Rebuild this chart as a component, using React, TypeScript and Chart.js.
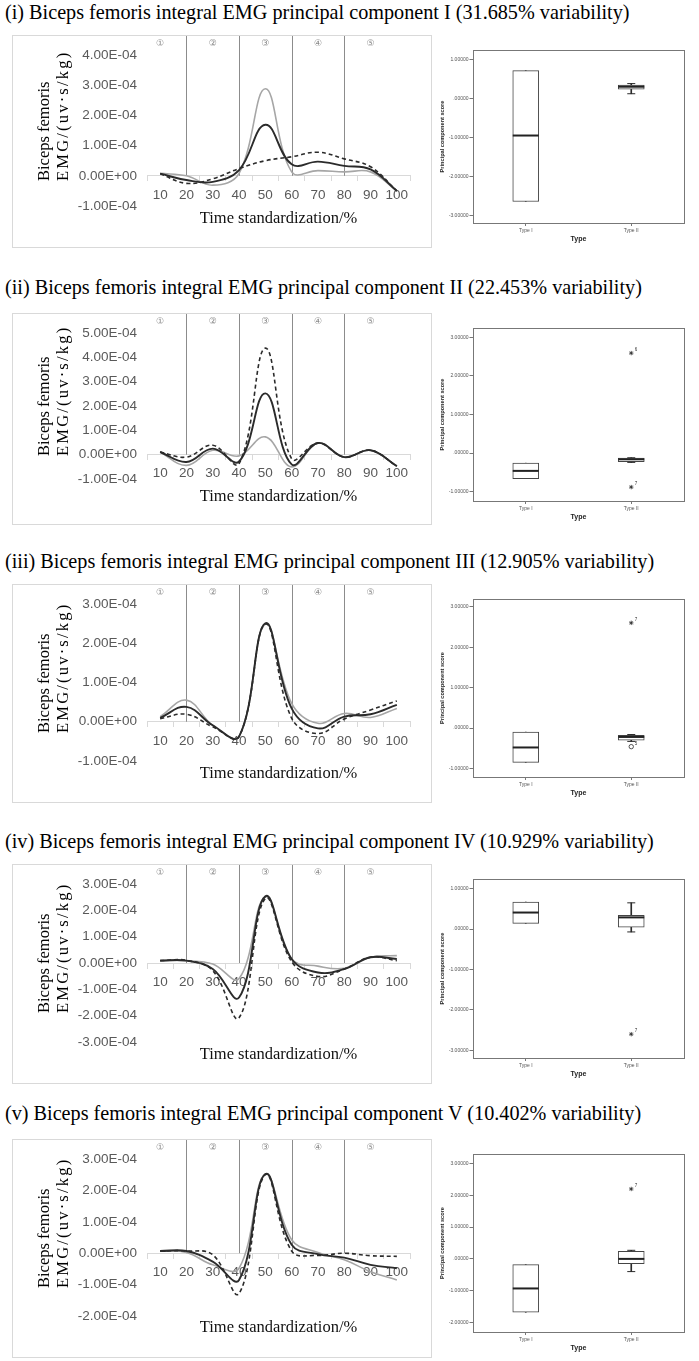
import React, { useEffect, useRef } from 'react';
import { Chart, registerables } from 'chart.js';

Chart.register(...registerables);
Chart.defaults.font.family = "'Liberation Sans', Arial, sans-serif";

const timeLabels = ['10', '20', '30', '40', '50', '60', '70', '80', '90', '100'];
const phaseBounds = ['20', '40', '60', '80'];
const phaseCenters = ['10', '30', '50', '70', '90'];
const phaseMarks = ['①', '②', '③', '④', '⑤'];
const typeLabels = ['Type I', 'Type II'];

const panelTitles = [
    '(i) Biceps femoris integral EMG principal component I (31.685% variability)',
    '(ii) Biceps femoris integral EMG principal component II (22.453% variability)',
    '(iii) Biceps femoris integral EMG principal component III (12.905% variability)',
    '(iv) Biceps femoris integral EMG principal component IV (10.929% variability)',
    '(v) Biceps femoris integral EMG principal component V (10.402% variability)',
];

// EMG curves (uv·s/kg) - grey, black and dashed group for each component
const pc1Grey = [0.08e-4, 0.0, -0.31e-4, 0.08e-4, 2.88e-4, 0.13e-4, 0.17e-4, 0.13e-4, 0.13e-4, -0.5e-4];
const pc1Black = [0.07e-4, -0.14e-4, -0.2e-4, 0.19e-4, 1.69e-4, 0.38e-4, 0.47e-4, 0.33e-4, 0.21e-4, -0.5e-4];
const pc1Dashed = [0.07e-4, -0.25e-4, -0.1e-4, 0.24e-4, 0.5e-4, 0.63e-4, 0.78e-4, 0.56e-4, 0.3e-4, -0.5e-4];

const pc2Grey = [0.11e-4, -0.44e-4, 0.18e-4, -0.05e-4, 0.73e-4, -0.5e-4, 0.48e-4, -0.1e-4, 0.18e-4, -0.47e-4];
const pc2Black = [0.11e-4, -0.3e-4, 0.25e-4, -0.28e-4, 2.52e-4, -0.4e-4, 0.48e-4, -0.1e-4, 0.18e-4, -0.47e-4];
const pc2Dashed = [0.11e-4, -0.1e-4, 0.39e-4, -0.37e-4, 4.38e-4, -0.17e-4, 0.48e-4, -0.1e-4, 0.18e-4, -0.47e-4];

const pc3Grey = [0.13e-4, 0.55e-4, -0.09e-4, -0.38e-4, 2.49e-4, 0.47e-4, -0.04e-4, 0.21e-4, 0.11e-4, 0.34e-4];
const pc3Black = [0.1e-4, 0.38e-4, -0.09e-4, -0.38e-4, 2.51e-4, 0.34e-4, -0.17e-4, 0.13e-4, 0.19e-4, 0.43e-4];
const pc3Dashed = [0.08e-4, 0.19e-4, -0.13e-4, -0.38e-4, 2.49e-4, 0.09e-4, -0.3e-4, 0.07e-4, 0.3e-4, 0.53e-4];

const pc4Grey = [0.09e-4, 0.09e-4, -0.04e-4, -0.59e-4, 2.51e-4, 0.15e-4, -0.12e-4, -0.2e-4, 0.22e-4, 0.28e-4];
const pc4Black = [0.09e-4, 0.09e-4, -0.23e-4, -1.31e-4, 2.53e-4, 0.15e-4, -0.36e-4, -0.23e-4, 0.22e-4, 0.15e-4];
const pc4Dashed = [0.09e-4, 0.1e-4, -0.29e-4, -2.08e-4, 2.45e-4, 0.05e-4, -0.51e-4, -0.23e-4, 0.22e-4, 0.09e-4];

const pc5Grey = [0.07e-4, 0.02e-4, -0.37e-4, -0.48e-4, 2.52e-4, 0.43e-4, 0.02e-4, -0.21e-4, -0.59e-4, -0.85e-4];
const pc5Black = [0.07e-4, 0.07e-4, -0.27e-4, -0.85e-4, 2.52e-4, 0.27e-4, -0.03e-4, -0.14e-4, -0.37e-4, -0.48e-4];
const pc5Dashed = [0.07e-4, 0.07e-4, -0.05e-4, -1.28e-4, 2.5e-4, 0.07e-4, -0.07e-4, 0.0, -0.08e-4, -0.1e-4];

const pc1Range = [-1e-4, 4e-4];
const pc2Range = [-1e-4, 5e-4];
const pc3Range = [-1e-4, 3e-4];
const pc4Range = [-3e-4, 3e-4];
const pc5Range = [-2e-4, 3e-4];

// principal component scores: [min, q1, median, q3, max]
const pc1TypeI = [-2.64, -2.64, -0.95, 0.71, 0.71];
const pc1TypeII = [0.12, 0.24, 0.3, 0.34, 0.38];
const pc2TypeI = [-0.66, -0.66, -0.46, -0.26, -0.26];
const pc2TypeII = [-0.24, -0.22, -0.16, -0.13, -0.12];
const pc3TypeI = [-0.85, -0.85, -0.48, -0.1, -0.1];
const pc3TypeII = [-0.33, -0.3, -0.22, -0.18, -0.16];
const pc4TypeI = [0.14, 0.14, 0.41, 0.67, 0.67];
const pc4TypeII = [-0.07, 0.05, 0.29, 0.34, 0.65];
const pc5TypeI = [-1.68, -1.68, -0.93, -0.18, -0.18];
const pc5TypeII = [-0.4, -0.15, 0.0, 0.24, 0.27];

const pc1Outliers: Outlier[] = [];
const pc2Outliers: Outlier[] = [
    { type: 'Type II', value: 2.59, id: '6', mark: 'star' },
    { type: 'Type II', value: -0.88, id: '7', mark: 'star' },
];
const pc3Outliers: Outlier[] = [
    { type: 'Type II', value: -0.46, id: '5', mark: 'circle' },
    { type: 'Type II', value: 2.6, id: '7', mark: 'star' },
];
const pc4Outliers: Outlier[] = [{ type: 'Type II', value: -2.6, id: '7', mark: 'star' }];
const pc5Outliers: Outlier[] = [{ type: 'Type II', value: 2.2, id: '7', mark: 'star' }];

const pc1ScoreRange = [-3.19, 1.24];
const pc2ScoreRange = [-1.24, 3.24];
const pc3ScoreRange = [-1.21, 3.19];
const pc4ScoreRange = [-3.19, 1.24];
const pc5ScoreRange = [-2.3, 3.3];

interface Outlier { type: string; value: number; id: string; mark: string }

interface PanelLayout {
    titleY: number; top: number; bottom: number; plotTop: number; plotBottom: number;
    xTitleGap: number; boxTop: number; boxBottom: number; boxRight: number;
}

const layouts: PanelLayout[] = [
    { titleY: 12, top: 35, bottom: 248, plotTop: 55, plotBottom: 206, xTitleGap: 13, boxTop: 39, boxBottom: 223, boxRight: 690 },
    { titleY: 287, top: 313, bottom: 525, plotTop: 333, plotBottom: 479, xTitleGap: 18, boxTop: 315, boxBottom: 501, boxRight: 688 },
    { titleY: 561, top: 584, bottom: 803, plotTop: 604, plotBottom: 761, xTitleGap: 13, boxTop: 593, boxBottom: 777, boxRight: 697 },
    { titleY: 841, top: 864, bottom: 1084, plotTop: 884, plotBottom: 1042, xTitleGap: 13, boxTop: 874, boxBottom: 1058, boxRight: 688 },
    { titleY: 1113, top: 1139, bottom: 1358, plotTop: 1159, plotBottom: 1316, xTitleGap: 12, boxTop: 1145, boxBottom: 1332, boxRight: 697 },
];

const panels = [
    { title: panelTitles[0], grey: pc1Grey, black: pc1Black, dashed: pc1Dashed, range: pc1Range, typeI: pc1TypeI, typeII: pc1TypeII, outliers: pc1Outliers, scoreRange: pc1ScoreRange },
    { title: panelTitles[1], grey: pc2Grey, black: pc2Black, dashed: pc2Dashed, range: pc2Range, typeI: pc2TypeI, typeII: pc2TypeII, outliers: pc2Outliers, scoreRange: pc2ScoreRange },
    { title: panelTitles[2], grey: pc3Grey, black: pc3Black, dashed: pc3Dashed, range: pc3Range, typeI: pc3TypeI, typeII: pc3TypeII, outliers: pc3Outliers, scoreRange: pc3ScoreRange },
    { title: panelTitles[3], grey: pc4Grey, black: pc4Black, dashed: pc4Dashed, range: pc4Range, typeI: pc4TypeI, typeII: pc4TypeII, outliers: pc4Outliers, scoreRange: pc4ScoreRange },
    { title: panelTitles[4], grey: pc5Grey, black: pc5Black, dashed: pc5Dashed, range: pc5Range, typeI: pc5TypeI, typeII: pc5TypeII, outliers: pc5Outliers, scoreRange: pc5ScoreRange },
];

const SERIF = "'Liberation Serif', 'Times New Roman', serif";
const AXIS_GREY = '#595959';
const INK = '#2b2b2b';
const X_TITLE_SIZE = 16.5;

// 4.00E-04 style labels, like Excel
const sciLabel = (v: number | string) => {
    let n = Number(v);
    if (Math.abs(n) < 1e-12) n = 0;
    const [m, e] = n.toExponential(2).split('e');
    const p = parseInt(e, 10);
    return `${m}E${p < 0 ? '-' : '+'}${String(Math.abs(p)).padStart(2, '0')}`;
};

const scoreLabel = (v: number | string) => {
    const n = Number(v);
    return Math.abs(n) < 1e-9 ? '.00000' : n.toFixed(5);
};

// phase separators and circled phase numbers
const phasePlugin = {
    id: 'phases',
    beforeDatasetsDraw(chart: any) {
        const { ctx } = chart;
        const x = chart.scales.x;
        const y = chart.scales.y;
        const zero = y.getPixelForValue(0);
        ctx.save();
        ctx.strokeStyle = '#8c8c8c';
        ctx.lineWidth = 1;
        phaseBounds.forEach((b) => {
            const px = Math.round(x.getPixelForValue(timeLabels.indexOf(b))) + 0.5;
            ctx.beginPath();
            ctx.moveTo(px, 0);
            ctx.lineTo(px, zero);
            ctx.stroke();
        });
        ctx.fillStyle = '#8a8a8a';
        ctx.font = "9px 'DejaVu Sans'";
        ctx.textAlign = 'center';
        ctx.textBaseline = 'middle';
        phaseMarks.forEach((m, i) => {
            ctx.fillText(m, x.getPixelForValue(timeLabels.indexOf(phaseCenters[i])), 8);
        });
        ctx.restore();
    },
};

const framePlugin = {
    id: 'frame',
    afterDraw(chart: any) {
        const { ctx, chartArea: a } = chart;
        ctx.save();
        ctx.strokeStyle = '#777';
        ctx.lineWidth = 1;
        ctx.strokeRect(Math.round(a.left) + 0.5, Math.round(a.top) + 0.5, Math.round(a.right - a.left), Math.round(a.bottom - a.top));
        ctx.restore();
    },
};

interface EmgProps { grey: number[]; black: number[]; dashed: number[]; range: number[]; layout: PanelLayout }

const EmgChart: React.FC<EmgProps> = ({ grey, black, dashed, range, layout }) => {
    const chartRef = useRef<HTMLCanvasElement>(null);
    const width = 418;
    const height = layout.bottom - layout.top - 2;

    useEffect(() => {
        if (!chartRef.current) return;
        const canvasTop = layout.top + 1;
        const areaTop = layout.plotTop - canvasTop;
        const areaBottom = layout.plotBottom - canvasTop;
        const titleLine = X_TITLE_SIZE * 1.2;
        const titlePadTop = layout.xTitleGap - titleLine / 2;
        const padBottom = height - areaBottom - titleLine - titlePadTop;

        const chart = new Chart(chartRef.current, {
            type: 'line',
            data: {
                labels: timeLabels,
                datasets: [
                    { data: black, borderColor: INK, borderWidth: 1.9 },
                    { data: dashed, borderColor: INK, borderWidth: 1.6, borderDash: [4, 3] },
                    { data: grey, borderColor: '#a6a6a6', borderWidth: 1.6 },
                ],
            },
            options: {
                responsive: false,
                animation: false,
                layout: { padding: { top: areaTop, bottom: padBottom, left: 0, right: 21 } },
                elements: { point: { radius: 0 }, line: { tension: 0.4, fill: false } },
                scales: {
                    x: {
                        position: { y: 0 },
                        offset: true,
                        grid: { display: true, drawOnChartArea: false, drawTicks: true, tickLength: 5, offset: true, color: '#d9d9d9' },
                        border: { display: true, color: '#d9d9d9' },
                        ticks: { autoSkip: false, maxRotation: 0, padding: 6, color: AXIS_GREY, font: { size: 13.5 } },
                    },
                    y: {
                        min: range[0],
                        max: range[1],
                        grid: { display: false, drawTicks: false },
                        border: { display: false },
                        ticks: { stepSize: 1e-4, padding: 10, color: AXIS_GREY, font: { size: 13.5 }, callback: sciLabel },
                        afterFit: (s: any) => { s.width = 134; },
                    },
                },
                plugins: {
                    legend: { display: false },
                    tooltip: { enabled: false },
                    title: {
                        display: true,
                        text: 'Time standardization/%',
                        position: 'bottom',
                        fullSize: false,
                        color: '#111',
                        font: { family: SERIF, size: X_TITLE_SIZE, weight: 'normal', lineHeight: 1.2 },
                        padding: { top: titlePadTop, bottom: 0 },
                    },
                },
            } as any,
            plugins: [phasePlugin],
        });

        return () => {
            chart.destroy();
        };
    }, []);

    return (
        <div style={{ position: 'absolute', left: 12, top: layout.top, width: 420, height: layout.bottom - layout.top, boxSizing: 'border-box', border: '1px solid #d9d9d9' }}>
            <canvas ref={chartRef} width={width} height={height} style={{ display: 'block' }} />
        </div>
    );
};

interface ScoreProps { typeI: number[]; typeII: number[]; outliers: Outlier[]; scoreRange: number[]; layout: PanelLayout }

const ScoreBoxChart: React.FC<ScoreProps> = ({ typeI, typeII, outliers, scoreRange, layout }) => {
    const chartRef = useRef<HTMLCanvasElement>(null);
    const left = 434;
    const width = 699 - left;
    const height = layout.bottom - layout.top;

    useEffect(() => {
        if (!chartRef.current) return;
        const stats = [typeI, typeII];
        const axisH = layout.bottom - layout.boxBottom;
        const caps: { x: string; y: number }[] = [];
        stats.forEach((s, i) => {
            if (s[0] < s[1]) caps.push({ x: typeLabels[i], y: s[0] });
            if (s[4] > s[3]) caps.push({ x: typeLabels[i], y: s[4] });
        });

        const outlierIds = {
            id: 'outlierIds',
            afterDatasetsDraw(chart: any) {
                const meta = chart.getDatasetMeta(5);
                const { ctx } = chart;
                ctx.save();
                ctx.fillStyle = '#333';
                ctx.font = '4.5px Liberation Sans';
                ctx.textBaseline = 'middle';
                meta.data.forEach((pt: any, i: number) => {
                    ctx.fillText(outliers[i].id, pt.x + 3.5, pt.y - 3);
                });
                ctx.restore();
            },
        };

        const chart = new Chart(chartRef.current, {
            type: 'bar',
            data: {
                labels: typeLabels,
                datasets: [
                    { type: 'bar', data: stats.map((s) => [s[0], s[1]]), backgroundColor: INK, barThickness: 1, grouped: false, order: 5 },
                    { type: 'bar', data: stats.map((s) => [s[3], s[4]]), backgroundColor: INK, barThickness: 1, grouped: false, order: 5 },
                    { type: 'bar', data: stats.map((s) => [s[1], s[3]]), backgroundColor: '#fff', borderColor: '#444', borderWidth: 1, borderSkipped: false, barThickness: 26, grouped: false, order: 4 },
                    { type: 'line', data: caps, showLine: false, pointStyle: 'line', pointRadius: 4, pointBorderColor: INK, pointBorderWidth: 1, order: 2 },
                    { type: 'line', data: stats.map((s) => s[2]), showLine: false, pointStyle: 'line', pointRadius: 13, pointBorderColor: '#222', pointBorderWidth: 2, order: 1 },
                    {
                        type: 'line',
                        data: outliers.map((o) => ({ x: o.type, y: o.value })),
                        showLine: false,
                        pointStyle: (c: any) => outliers[c.dataIndex]?.mark ?? 'star',
                        pointRadius: 2.2,
                        pointBorderColor: INK,
                        pointBackgroundColor: '#fff',
                        pointBorderWidth: 0.8,
                        order: 0,
                    },
                ],
            },
            options: {
                responsive: false,
                animation: false,
                layout: { padding: { top: layout.boxTop - layout.top, bottom: 0, left: 0, right: 699 - layout.boxRight } },
                scales: {
                    x: {
                        offset: true,
                        grid: { drawOnChartArea: false, offset: false, tickLength: 3, color: '#777' },
                        border: { color: '#777' },
                        ticks: { padding: 1.5, color: '#555', font: { size: 5 } },
                        title: { display: true, text: 'Type', color: '#222', font: { size: 7, weight: 'bold', lineHeight: 1.2 }, padding: { top: 0, bottom: axisH - 16 - 4.2 } },
                        afterFit: (s: any) => { s.height = axisH; },
                    },
                    y: {
                        min: scoreRange[0],
                        max: scoreRange[1],
                        grid: { drawOnChartArea: false, tickLength: 3.5, color: '#777' },
                        border: { color: '#777' },
                        ticks: { stepSize: 1, includeBounds: false, padding: 1, color: '#555', font: { size: 5 }, callback: scoreLabel },
                        title: { display: true, text: 'Principal component score', color: '#222', font: { size: 5.6, weight: 'bold', lineHeight: 1.2 }, padding: { top: 4.6, bottom: 0 } },
                        afterFit: (s: any) => { s.width = 473 - left; },
                    },
                },
                plugins: { legend: { display: false }, tooltip: { enabled: false } },
            } as any,
            plugins: [framePlugin, outlierIds],
        });

        return () => {
            chart.destroy();
        };
    }, []);

    return (
        <div style={{ position: 'absolute', left, top: layout.top, width, height }}>
            <canvas ref={chartRef} width={width} height={height} style={{ display: 'block' }} />
        </div>
    );
};

const App: React.FC = () => (
    <div style={{ position: 'absolute', left: 0, top: 0, width: 699, height: 1361, background: '#fff', overflow: 'hidden' }}>
        {panels.map((p, i) => {
            const l = layouts[i];
            const areaCenter = (l.plotTop + l.plotBottom) / 2;
            return (
                <React.Fragment key={i}>
                    <div style={{ position: 'absolute', left: 5, top: l.titleY - 13, font: `20.2px ${SERIF}`, lineHeight: '26px', color: '#000', whiteSpace: 'nowrap' }}>
                        {p.title}
                    </div>
                    <EmgChart grey={p.grey} black={p.black} dashed={p.dashed} range={p.range} layout={l} />
                    <div style={{ position: 'absolute', left: 33.5, top: areaCenter + 50, transform: 'rotate(-90deg)', transformOrigin: '0 0', font: `16.5px ${SERIF}`, lineHeight: '19px', color: '#000', whiteSpace: 'nowrap' }}>
                        <div>Biceps femoris</div>
                        <div style={{ letterSpacing: 2.2 }}>EMG/(uv·s/kg)</div>
                    </div>
                    <ScoreBoxChart typeI={p.typeI} typeII={p.typeII} outliers={p.outliers} scoreRange={p.scoreRange} layout={l} />
                </React.Fragment>
            );
        })}
    </div>
);

export default App;
